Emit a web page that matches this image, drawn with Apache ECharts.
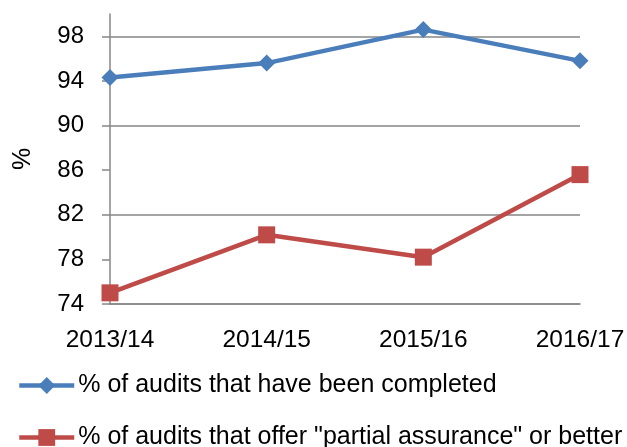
<!DOCTYPE html>
<html><head><meta charset="utf-8">
<script src="https://cdn.jsdelivr.net/npm/echarts@6/dist/echarts.min.js"></script>
<style>html,body{margin:0;padding:0;background:#fff}#c{width:627px;height:447px}</style>
</head><body><div id="c"></div>
<script>
const categories = ['2013/14', '2014/15', '2015/16', '2016/17'];
const completed = [94.3, 95.6, 98.6, 95.8];
const partialOrBetter = [75.0, 80.2, 78.2, 85.6];
const yTickLabels = [74, 78, 82, 86, 90, 94, 98];
const seriesNames = ['% of audits that have been completed', '% of audits that offer "partial assurance" or better'];
const colors = ['#4A7EBB', '#BE4B48'];

const font = 'Liberation Sans';
const legendBase = {
  orient: 'vertical', left: 12,
  itemWidth: 55, itemHeight: 21,
  lineStyle: { width: 4.5 },
  textStyle: { color: '#000', fontSize: 25, fontFamily: font, padding: [0, 0, 0, -1] }
};
const chart = echarts.init(document.getElementById('c'));
chart.setOption({
  animation: false,
  textStyle: { fontFamily: font },
  grid: { left: 110, right: 47, top: 14, bottom: 143, outerBoundsMode: 'none', containLabel: false },
  xAxis: {
    type: 'category', data: categories, boundaryGap: false,
    axisLine: { show: true, lineStyle: { color: '#868686', width: 1.5 } },
    axisTick: { show: false },
    axisLabel: { color: '#000', fontSize: 24.5, margin: 24, fontFamily: font },
    splitLine: { show: false }
  },
  yAxis: {
    type: 'value', min: 74, max: 100, interval: 2,
    name: '%', nameLocation: 'middle', nameGap: 74, nameRotate: 90,
    nameTextStyle: { color: '#000', fontSize: 25, fontFamily: font },
    axisLine: { show: true, lineStyle: { color: '#868686', width: 1.5 } },
    axisTick: { show: true, length: 8, customValues: yTickLabels, lineStyle: { color: '#868686', width: 1.5 } },
    axisLabel: { color: '#000', fontSize: 24, margin: 26, fontFamily: font, customValues: yTickLabels,
      formatter: v => (yTickLabels.indexOf(v) >= 0 ? String(v) : '') },
    splitLine: { show: true, lineStyle: { color: ['#868686', 'rgba(0,0,0,0)'], width: 1.5 } }
  },
  legend: [
    Object.assign({}, legendBase, { top: 368, data: [seriesNames[0]] }),
    Object.assign({}, legendBase, { top: 420, data: [seriesNames[1]] })
  ],
  series: [
    { name: seriesNames[0], type: 'line', data: completed, symbol: 'diamond', symbolSize: 17,
      lineStyle: { color: colors[0], width: 4.5 }, itemStyle: { color: colors[0] } },
    { name: seriesNames[1], type: 'line', data: partialOrBetter, symbol: 'rect', symbolSize: 17,
      lineStyle: { color: colors[1], width: 4.5 }, itemStyle: { color: colors[1] } }
  ]
});
</script></body></html>
